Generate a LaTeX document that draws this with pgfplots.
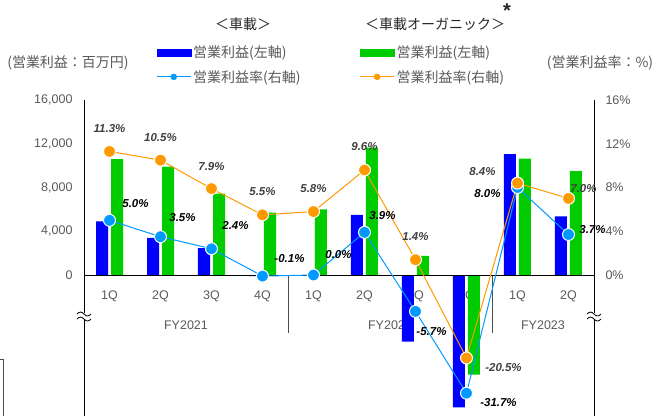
\documentclass[border=0pt]{standalone}
\usepackage{pgfplots}
\usepackage{pgfplotstable}
\pgfplotsset{compat=1.18}
\usepackage{fontspec}
\setmainfont{Liberation Sans}
\newfontfamily\jp{Noto Sans CJK JP}

\definecolor{barblue}{RGB}{0,0,255}
\definecolor{bargreen}{RGB}{0,204,0}
\definecolor{lineblue}{RGB}{0,153,255}
\definecolor{lineorange}{RGB}{255,153,0}
\definecolor{txtgray}{RGB}{89,89,89}
\definecolor{lblgray}{RGB}{64,64,64}
\definecolor{ttlgray}{RGB}{38,38,38}

% operating profit, million yen (vehicle / organic)
\pgfplotstableread{
x  veh     org
0  4900    10600
1  3400    9900
2  2450    7450
3  -100    5700
4  0       6000
5  5500    11650
6  -6100   1750
7  -12100  -9100
8  11050   10650
9  5350    9500
}\profit

% operating margin %, with label offsets (pt)
\pgfplotstableread{
x  v      dx   dy
0  5.0    26   17
1  3.5    22   19
2  2.4    24   23
3  -0.1   27   18
4  0.0    25   20
5  3.9    18   17
6  -5.7   16   -20
7  -31.7  32   -9
8  8.0    -30  -6
9  3.7    24   5
}\vehrate

\pgfplotstableread{
x  v      dx   dy
0  11.3   0    23
1  10.5   0    23
2  7.9    0    22
3  5.5    0    23
4  5.8    0    23
5  9.6    0    23
6  1.4    0    23
7  -20.5  37   -10
8  8.4    -35  12
9  7.0    15   10
}\orgrate

\begin{document}
\begin{tikzpicture}
\path[use as bounding box] (0,0) rectangle (662pt,416pt);
\pgfplotsset{
  base/.style={scale only axis, width=510pt, height=316pt,
    at={(84pt,0pt)}, anchor=south west,
    xmin=-0.5, xmax=9.5, xtick=\empty,
    major tick length=0pt, clip=false, scaled y ticks=false,
    axis line style={black, line width=0.8pt},
    yticklabel style={font=\fontsize{12.5}{14}\selectfont, text=txtgray},
    /pgf/number format/assume math mode=true},
  rate/.style={line width=1pt, mark=*, mark size=6pt,
    y filter/.expression={y<-1 ? 0.2875*y-1.69 : y},
    point meta=explicit,
    visualization depends on={\thisrow{dx} \as \labdx},
    visualization depends on={\thisrow{dy} \as \labdy},
    nodes near coords={\pgfmathprintnumber[fixed,fixed zerofill,precision=1]{\pgfplotspointmeta}\%},
    every node near coord/.append style={anchor=center, xshift=\labdx pt, yshift=\labdy pt,
      font=\bfseries\itshape\fontsize{11.5}{12}\selectfont}}
}

% category labels, under the bars
\begin{axis}[base, hide axis, ymin=-12891, ymax=16000]
\begin{scope}[font=\fontsize{12.5}{14}\selectfont, text=txtgray]
\node at (axis cs:0,-1920) {1Q};
\node at (axis cs:1,-1920) {2Q};
\node at (axis cs:2,-1920) {3Q};
\node at (axis cs:3,-1920) {4Q};
\node at (axis cs:4,-1920) {1Q};
\node at (axis cs:5,-1920) {2Q};
\node at (axis cs:6,-1920) {3Q};
\node at (axis cs:7,-1920) {4Q};
\node at (axis cs:8,-1920) {1Q};
\node at (axis cs:9,-1920) {2Q};
\node at (axis cs:1.5,-4570) {FY2021};
\node at (axis cs:5.5,-4570) {FY2022};
\node at (axis cs:8.5,-4570) {FY2023};
\end{scope}
\draw[black!70, line width=0.8pt] (axis cs:3.5,0) -- (axis cs:3.5,-5300);
\draw[black!70, line width=0.8pt] (axis cs:7.5,0) -- (axis cs:7.5,-5300);
\end{axis}

\begin{axis}[base, axis y line*=left, axis x line=none,
  ymin=-12891, ymax=16000, ytick={0,4000,...,16000},
  /pgf/number format/1000 sep={,},
  yticklabel style={xshift=-8pt},
  ybar=3pt, bar width=12pt]
\addplot[fill=barblue, draw=none] table[x=x, y=veh] {\profit};
\addplot[fill=bargreen, draw=none] table[x=x, y=org] {\profit};
\draw[black, line width=0.8pt] (axis cs:-0.5,0) -- (axis cs:9.5,0);
\coordinate (brkL) at (axis cs:-0.5,-3750);
\coordinate (brkR) at (axis cs:9.5,-3750);
\end{axis}

\begin{axis}[base, axis y line*=right, axis x line=none,
  ymin=-12.891, ymax=16, ytick={0,4,...,16},
  yticklabel={\pgfmathprintnumber{\tick}\%},
  yticklabel style={xshift=8pt},
  legend columns=2, legend cell align=left,
  legend style={at={(axis description cs:0.1412,1.178)}, anchor=north west,
    draw=none, fill=none, inner sep=0pt, row sep=7pt,
    font=\jp\fontsize{14}{16}\selectfont, text=txtgray,
    /tikz/every even column/.append style={column sep=57pt}}]
\addlegendimage{legend image code/.code={\fill[barblue] (0pt,-3.5pt) rectangle (34pt,3.5pt);}}
\addlegendentry{営業利益(左軸)}
\addlegendimage{legend image code/.code={\fill[bargreen] (0pt,-3.5pt) rectangle (34pt,3.5pt);}}
\addlegendentry{営業利益(左軸)}
\addlegendimage{legend image code/.code={\draw[lineblue, line width=1pt] (0pt,0pt) -- (34pt,0pt); \fill[lineblue] (17pt,0pt) circle (3pt);}}
\addlegendentry{営業利益率(右軸)}
\addlegendimage{legend image code/.code={\draw[lineorange, line width=1pt] (0pt,0pt) -- (34pt,0pt); \fill[lineorange] (17pt,0pt) circle (3pt);}}
\addlegendentry{営業利益率(右軸)}
\addplot[rate, lineblue, mark options={fill=lineblue, draw=white, line width=1pt},
  every node near coord/.append style={text=black}, forget plot]
  table[x=x, y=v, meta=v] {\vehrate};
\addplot[rate, lineorange, mark options={fill=lineorange, draw=white, line width=1pt},
  every node near coord/.append style={text=lblgray}, forget plot]
  table[x=x, y=v, meta=v] {\orgrate};
\end{axis}

% axis break marks
\foreach \c in {brkL,brkR}{
  \fill[white] ([shift={(-2pt,-3pt)}]\c) rectangle ([shift={(2pt,3pt)}]\c);
  \draw[black, line width=0.8pt] ([shift={(-7pt,2pt)}]\c) sin ([shift={(-3.5pt,4pt)}]\c)
    cos ([shift={(0pt,2pt)}]\c) sin ([shift={(3.5pt,0pt)}]\c) cos ([shift={(7pt,2pt)}]\c);
  \draw[black, line width=0.8pt] ([shift={(-7pt,-3pt)}]\c) sin ([shift={(-3.5pt,-1pt)}]\c)
    cos ([shift={(0pt,-3pt)}]\c) sin ([shift={(3.5pt,-5pt)}]\c) cos ([shift={(7pt,-3pt)}]\c);
}

\node[font=\jp\fontsize{14}{16}\selectfont, text=ttlgray, inner sep=0pt] at (243pt,392pt) {＜車載＞};
\node[font=\jp\fontsize{14}{16}\selectfont, text=ttlgray, inner sep=0pt] at (435pt,392pt) {＜車載オーガニック＞};
\node[font=\bfseries\fontsize{20}{20}\selectfont, text=ttlgray, inner sep=0pt] at (507pt,405pt) {*};
\node[font=\jp\fontsize{14}{16}\selectfont, text=txtgray] at (68pt,353pt) {(営業利益：百万円)};
\node[font=\jp\fontsize{14}{16}\selectfont, text=txtgray] at (600pt,353pt) {(営業利益率：\%)};
\draw[black!70, line width=0.8pt] (0pt,57pt) -- (3.3pt,57pt) -- (3.3pt,0pt);
\end{tikzpicture}
\end{document}
